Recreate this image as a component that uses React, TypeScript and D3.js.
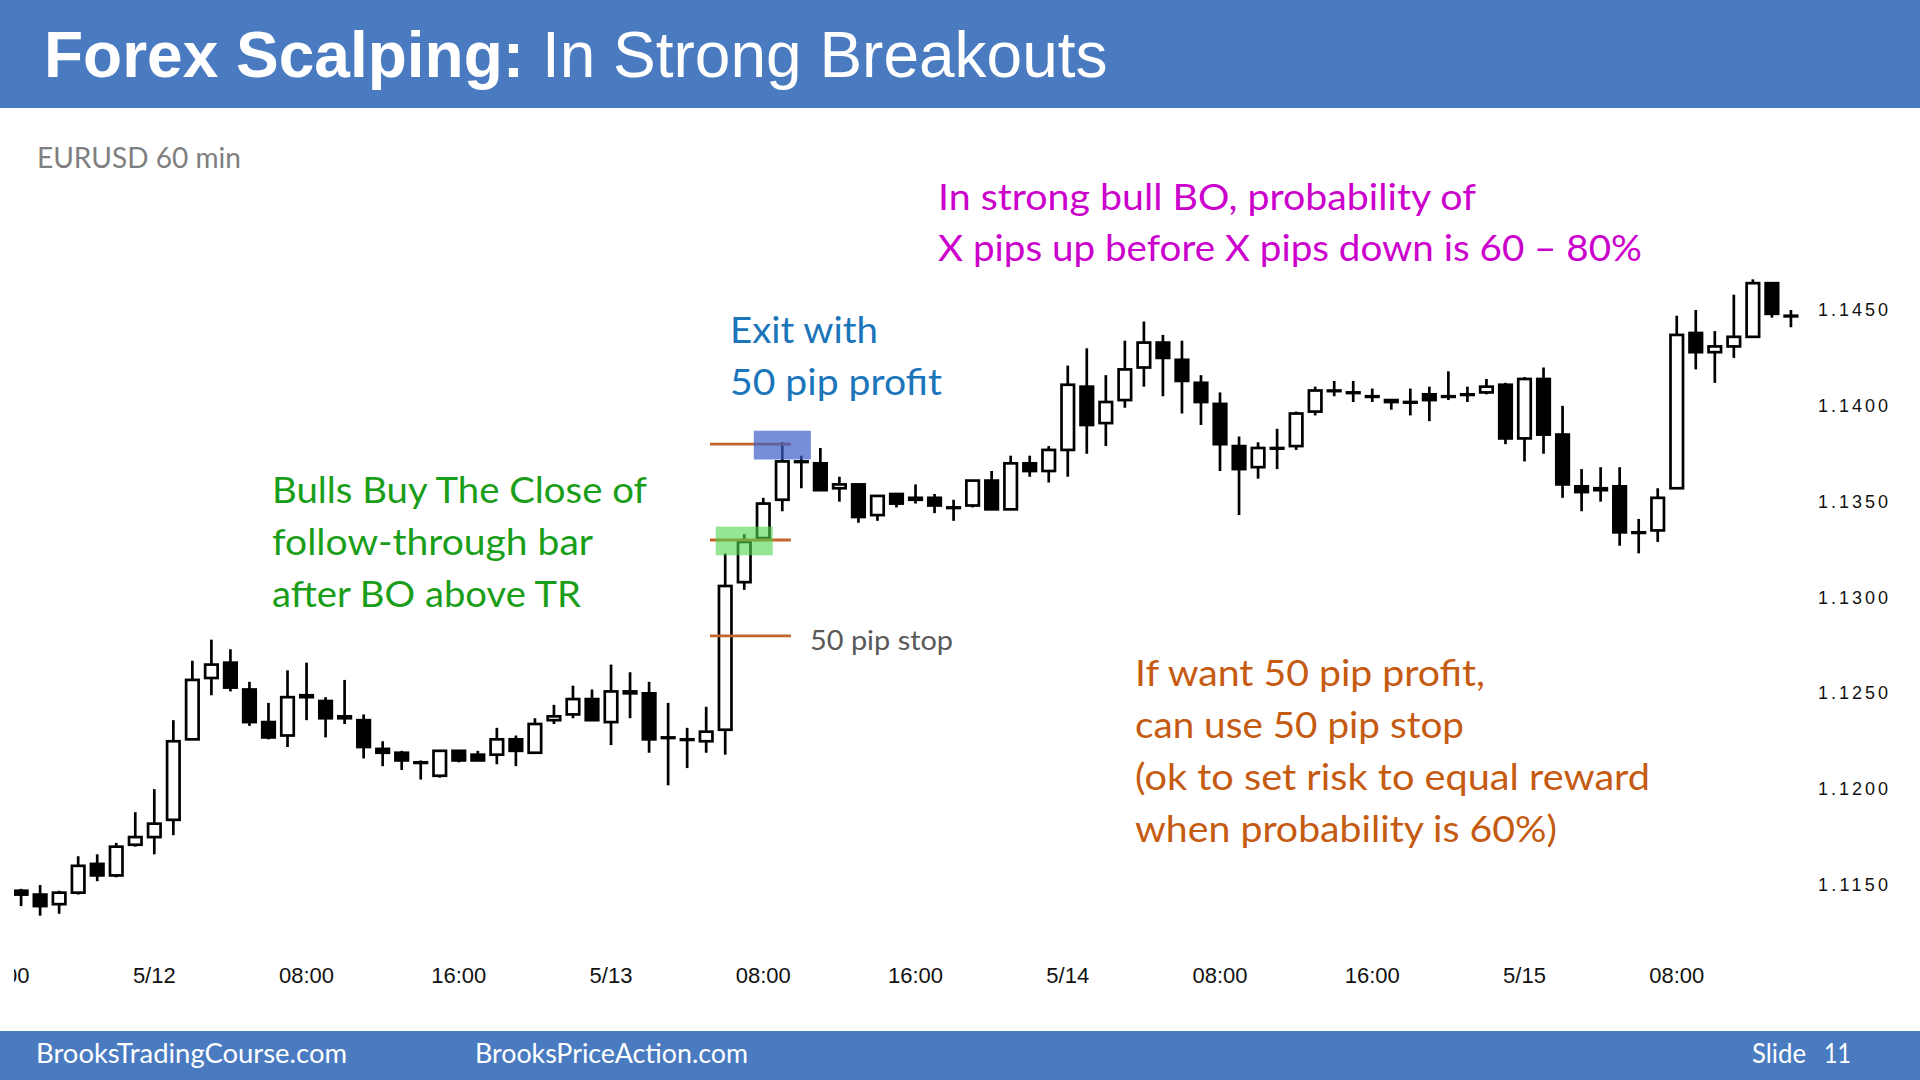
import React from "react";
import * as d3 from "d3";

// ---- Data (EURUSD 60 min), first bar = 5/11 17:00 (hour -7 relative to 5/12 00:00)
const firstHour = -7;
const opens = [
  1.1147, 1.1145, 1.1140, 1.1146, 1.1161, 1.1155, 1.1171, 1.1175, 1.1184, 1.1226,
  1.1258, 1.1266, 1.1252, 1.1235, 1.1228, 1.1249, 1.1246, 1.1238, 1.1236, 1.1221,
  1.1219, 1.1214, 1.1207, 1.1220, 1.1218, 1.1218, 1.1226, 1.1219, 1.1236, 1.1239,
  1.1247, 1.1235, 1.1251, 1.1250, 1.1227, 1.1226, 1.1225, 1.1231, 1.1308, 1.1331,
  1.1351, 1.1371, 1.1370, 1.1357, 1.1359, 1.1343, 1.1354, 1.1352, 1.1352, 1.1347,
  1.1348, 1.1361, 1.1346, 1.1370, 1.1366, 1.1377, 1.1410, 1.1391, 1.1403, 1.1420,
  1.1433, 1.1424, 1.1412, 1.1401, 1.1379, 1.1368, 1.1378, 1.1379, 1.1397, 1.1408,
  1.1407, 1.1405, 1.1403, 1.1402, 1.1406, 1.1405, 1.1406, 1.1407, 1.1411, 1.1383,
  1.1414, 1.1385, 1.1358, 1.1357, 1.1358, 1.1334, 1.1335, 1.1357, 1.1438, 1.1428,
  1.1431, 1.1436, 1.1464, 1.1447,
];
const highs = [
  1.1148, 1.1150, 1.1147, 1.1165, 1.1166, 1.1172, 1.1188, 1.1200, 1.1236, 1.1267,
  1.1278, 1.1273, 1.1256, 1.1245, 1.1262, 1.1266, 1.1248, 1.1257, 1.1239, 1.1225,
  1.1220, 1.1215, 1.1220, 1.1220, 1.1220, 1.1232, 1.1228, 1.1237, 1.1244, 1.1254,
  1.1252, 1.1265, 1.1261, 1.1256, 1.1245, 1.1232, 1.1243, 1.1323, 1.1333, 1.1352,
  1.1381, 1.1374, 1.1378, 1.1363, 1.1359, 1.1353, 1.1354, 1.1359, 1.1354, 1.1351,
  1.1361, 1.1366, 1.1374, 1.1374, 1.1379, 1.1421, 1.1430, 1.1416, 1.1434, 1.1444,
  1.1437, 1.1434, 1.1416, 1.1407, 1.1384, 1.1381, 1.1388, 1.1397, 1.1410, 1.1413,
  1.1413, 1.1409, 1.1403, 1.1409, 1.1410, 1.1418, 1.1410, 1.1414, 1.1412, 1.1415,
  1.1420, 1.1400, 1.1367, 1.1368, 1.1368, 1.1341, 1.1357, 1.1447, 1.1450, 1.1439,
  1.1458, 1.1466, 1.1464, 1.1450,
];
const lows = [
  1.1139, 1.1134, 1.1135, 1.1145, 1.1152, 1.1154, 1.1170, 1.1166, 1.1176, 1.1226,
  1.1249, 1.1251, 1.1233, 1.1226, 1.1222, 1.1236, 1.1227, 1.1234, 1.1216, 1.1212,
  1.1210, 1.1205, 1.1206, 1.1214, 1.1215, 1.1213, 1.1212, 1.1219, 1.1234, 1.1237,
  1.1236, 1.1223, 1.1237, 1.1219, 1.1202, 1.1211, 1.1219, 1.1218, 1.1304, 1.1331,
  1.1345, 1.1357, 1.1356, 1.1350, 1.1339, 1.1340, 1.1347, 1.1349, 1.1344, 1.1340,
  1.1347, 1.1346, 1.1346, 1.1363, 1.1360, 1.1363, 1.1375, 1.1379, 1.1399, 1.1410,
  1.1405, 1.1396, 1.1390, 1.1366, 1.1343, 1.1362, 1.1367, 1.1377, 1.1395, 1.1405,
  1.1402, 1.1402, 1.1398, 1.1395, 1.1392, 1.1403, 1.1402, 1.1406, 1.1380, 1.1371,
  1.1375, 1.1352, 1.1345, 1.1350, 1.1327, 1.1323, 1.1329, 1.1357, 1.1419, 1.1412,
  1.1425, 1.1436, 1.1446, 1.1441,
];
const closes = [
  1.1145, 1.1139, 1.1146, 1.1160, 1.1155, 1.1170, 1.1175, 1.1182, 1.1225, 1.1257,
  1.1265, 1.1253, 1.1235, 1.1227, 1.1248, 1.1248, 1.1237, 1.1237, 1.1222, 1.1219,
  1.1215, 1.1214, 1.1220, 1.1215, 1.1215, 1.1226, 1.1220, 1.1234, 1.1238, 1.1247,
  1.1236, 1.1251, 1.1250, 1.1226, 1.1227, 1.1226, 1.1230, 1.1306, 1.1329, 1.1349,
  1.1371, 1.1371, 1.1356, 1.1359, 1.1342, 1.1353, 1.1349, 1.1351, 1.1348, 1.1347,
  1.1361, 1.1346, 1.1370, 1.1366, 1.1377, 1.1411, 1.1390, 1.1402, 1.1419, 1.1433,
  1.1425, 1.1413, 1.1402, 1.1380, 1.1367, 1.1378, 1.1378, 1.1396, 1.1408, 1.1408,
  1.1407, 1.1405, 1.1402, 1.1402, 1.1403, 1.1405, 1.1406, 1.1410, 1.1383, 1.1414,
  1.1385, 1.1359, 1.1355, 1.1356, 1.1334, 1.1334, 1.1352, 1.1437, 1.1428, 1.1431,
  1.1436, 1.1464, 1.1448, 1.1447,
];

const xTickHours = [-8, 0, 8, 16, 24, 32, 40, 48, 56, 64, 72, 80];
const xTickLabels = ["16:00", "5/12", "08:00", "16:00", "5/13", "08:00", "16:00", "5/14", "08:00", "16:00", "5/15", "08:00"];
const yTicks = [1.115, 1.12, 1.125, 1.13, 1.135, 1.14, 1.145];

// annotation levels (entry, target, stop)
const levelPrices = [1.138, 1.133, 1.128];
const levelHourSpan = [29.2, 33.45];
const entryBox = { h0: 29.5, h1: 32.5, p0: 1.1322, p1: 1.1337 };
const exitBox = { h0: 31.5, h1: 34.5, p0: 1.1372, p1: 1.1387 };

const FONT_CAL = "Lato, 'Open Sans', sans-serif";
const FONT_ARIAL = "'Liberation Sans', Arial, sans-serif";

export default function App() {
  const x = d3.scaleLinear().domain([0, 72]).range([154.3, 1524.5]);
  const y = d3.scaleLinear().domain([1.115, 1.145]).range([885, 310]);
  const bw = 12.5;
  const sw = 2.7;
  const fmt = d3.format(".4f");

  const candles = opens.map((o, i) => ({ o, h: highs[i], l: lows[i], c: closes[i], hour: firstHour + i }));

  return (
    <svg width={1920} height={1080} style={{ position: "absolute", left: 0, top: 0, display: "block", background: "#fff" }}>
      <defs>
        <clipPath id="chartClip">
          <rect x={14} y={0} width={1906} height={1080} />
        </clipPath>
      </defs>
      <rect x={0} y={0} width={1920} height={1080} fill="#fff" />
      {/* Title bar */}
      <rect x={0} y={0} width={1920} height={108} fill="#4a7bc1" />
      <text x={44} y={77} fill="#fff" fontFamily={FONT_ARIAL} fontSize={64}>
        <tspan fontWeight="bold">Forex Scalping:</tspan>
        <tspan> In Strong Breakouts</tspan>
      </text>

      <text x={37} y={168} fill="#7f7f7f" fontFamily={FONT_CAL} fontSize={28} textLength={204} lengthAdjust="spacingAndGlyphs">EURUSD 60 min</text>

      {/* candles */}
      <g clipPath="url(#chartClip)">
        {candles.map((d, i) => {
          const cx = x(d.hour);
          const up = d.c >= d.o;
          const yt = y(Math.max(d.o, d.c));
          const yb = y(Math.min(d.o, d.c));
          return (
            <g key={i}>
              <line x1={cx} x2={cx} y1={y(d.h)} y2={y(d.l)} stroke="#000" strokeWidth={sw} />
              <rect x={cx - bw / 2} y={yt} width={bw} height={Math.max(yb - yt, 0.6)} fill={up ? "#fff" : "#000"} stroke="#000" strokeWidth={sw} />
            </g>
          );
        })}
      </g>

      {/* level lines */}
      {levelPrices.map((p, i) => (
        <line key={i} x1={x(levelHourSpan[0])} x2={x(levelHourSpan[1])} y1={y(p)} y2={y(p)} stroke="#c4652c" strokeWidth={2.8} />
      ))}
      <rect x={x(entryBox.h0)} y={y(entryBox.p1)} width={x(entryBox.h1) - x(entryBox.h0)} height={y(entryBox.p0) - y(entryBox.p1)} fill="#4cd64c" fillOpacity={0.6} />
      <rect x={x(exitBox.h0)} y={y(exitBox.p1)} width={x(exitBox.h1) - x(exitBox.h0)} height={y(exitBox.p0) - y(exitBox.p1)} fill="#3c5cc8" fillOpacity={0.7} />

      {/* axes labels */}
      <g clipPath="url(#chartClip)">
        {xTickHours.map((h, i) => (
          <text key={i} x={x(h)} y={983} textAnchor="middle" fontFamily={FONT_ARIAL} fontSize={22} fill="#111">{xTickLabels[i]}</text>
        ))}
      </g>
      {yTicks.map((t, i) => (
        <text key={i} x={1818} y={y(t) + 6} fontFamily={FONT_ARIAL} fontSize={18} fill="#111" textLength={70} lengthAdjust="spacing">{fmt(t)}</text>
      ))}

      {/* annotations */}
      <g fontFamily={FONT_CAL} fontSize={36}>
        <text x={938} y={210} fill="#cc00cc" textLength={538} lengthAdjust="spacingAndGlyphs">In strong bull BO, probability of</text>
        <text x={938} y={261} fill="#cc00cc" textLength={704} lengthAdjust="spacingAndGlyphs">X pips up before X pips down is 60 – 80%</text>

        <text x={730} y={343} fill="#1b75bb" textLength={148} lengthAdjust="spacingAndGlyphs">Exit with</text>
        <text x={730} y={395} fill="#1b75bb" textLength={212} lengthAdjust="spacingAndGlyphs">50 pip profit</text>

        <text x={272} y={503} fill="#1a9e1a" textLength={375} lengthAdjust="spacingAndGlyphs">Bulls Buy The Close of</text>
        <text x={272} y={555} fill="#1a9e1a" textLength={321} lengthAdjust="spacingAndGlyphs">follow-through bar</text>
        <text x={272} y={607} fill="#1a9e1a" textLength={309} lengthAdjust="spacingAndGlyphs">after BO above TR</text>

        <text x={1135} y={686} fill="#c55a11" textLength={350} lengthAdjust="spacingAndGlyphs">If want 50 pip profit,</text>
        <text x={1135} y={738} fill="#c55a11" textLength={329} lengthAdjust="spacingAndGlyphs">can use 50 pip stop</text>
        <text x={1135} y={790} fill="#c55a11" textLength={515} lengthAdjust="spacingAndGlyphs">(ok to set risk to equal reward</text>
        <text x={1135} y={842} fill="#c55a11" textLength={422} lengthAdjust="spacingAndGlyphs">when probability is 60%)</text>
      </g>
      <text x={810} y={650} fill="#595959" fontFamily={FONT_CAL} fontSize={27} textLength={143} lengthAdjust="spacingAndGlyphs">50 pip stop</text>

      {/* footer */}
      <rect x={0} y={1031} width={1920} height={49} fill="#4a7bc1" />
      <g fontFamily={FONT_CAL} fontSize={26} fill="#fff">
        <text x={36} y={1063} textLength={311} lengthAdjust="spacingAndGlyphs">BrooksTradingCourse.com</text>
        <text x={475} y={1063} textLength={273} lengthAdjust="spacingAndGlyphs">BrooksPriceAction.com</text>
        <text x={1752} y={1063} textLength={54} lengthAdjust="spacingAndGlyphs">Slide</text>
        <text x={1824} y={1063} textLength={27} lengthAdjust="spacingAndGlyphs">11</text>
      </g>
    </svg>
  );
}
